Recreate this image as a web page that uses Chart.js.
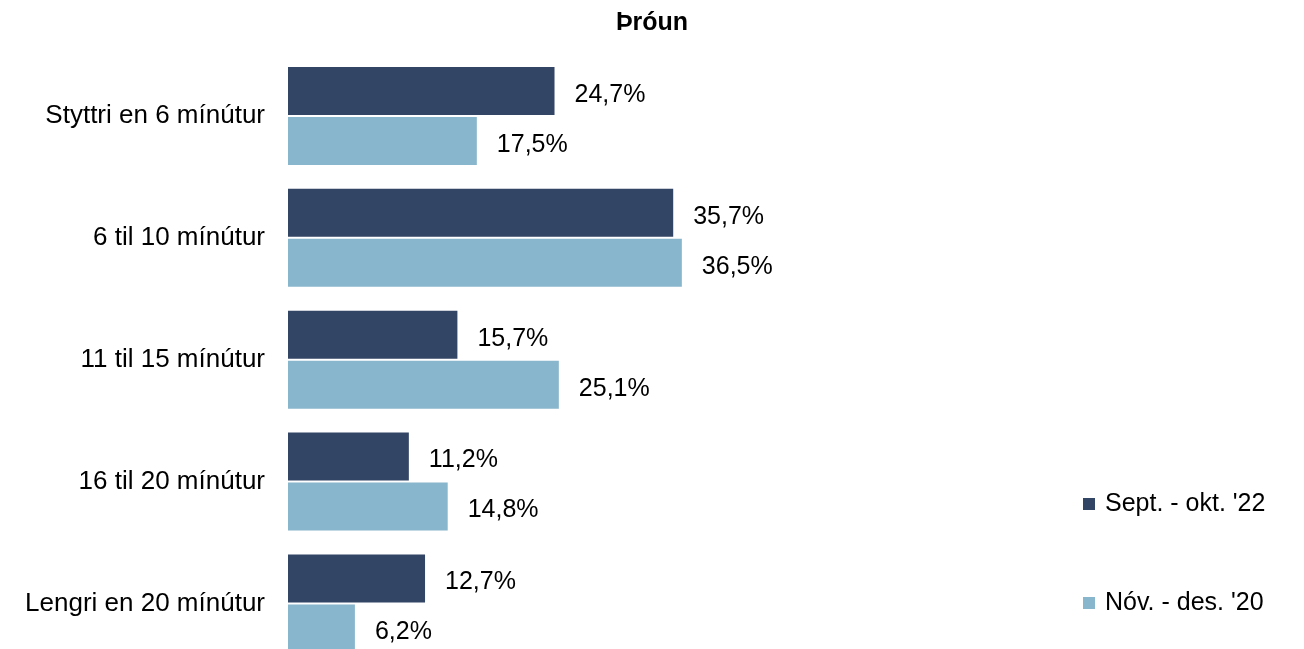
<!DOCTYPE html>
<html>
<head>
<meta charset="utf-8">
<style>
  html, body { margin: 0; padding: 0; background: #fff; overflow: hidden; }
</style>
</head>
<body>
<canvas id="chart-bars" width="1304" height="703"></canvas>
<script src="https://cdn.jsdelivr.net/npm/chart.js@4/dist/chart.umd.min.js"></script>
<script>
const categories = ["Styttri en 6 mínútur", "6 til 10 mínútur", "11 til 15 mínútur", "16 til 20 mínútur", "Lengri en 20 mínútur"];
const seriesNames = ["Sept. - okt. '22", "Nóv. - des. '20"];
const sept22 = [24.7, 35.7, 15.7, 11.2, 12.7];
const nov20 = [17.5, 36.5, 25.1, 14.8, 6.2];

const FONT = "'Liberation Sans', Arial, sans-serif";

// value labels to the right of each bar
const valueLabels = {
    id: 'valueLabels',
    afterDatasetsDraw(chart) {
        const c = chart.ctx;
        c.save();
        c.font = "25px " + FONT;
        c.fillStyle = "#000";
        c.textAlign = "left";
        c.textBaseline = "middle";
        chart.data.datasets.forEach((ds, i) => {
            chart.getDatasetMeta(i).data.forEach((bar, j) => {
                const txt = ds.data[j].toFixed(1).replace('.', ',') + '%';
                c.fillText(txt, bar.x + 20, bar.y + 4);
            });
        });
        c.restore();
    }
};

// title centred on the whole canvas + legend on the right
const extras = {
    id: 'extras',
    afterDraw(chart) {
        const c = chart.ctx;
        c.save();
        c.fillStyle = "#000";
        c.textAlign = "center";
        c.textBaseline = "middle";
        c.font = "bold 25px " + FONT;
        c.fillText('Þróun', chart.width / 2, 23);

        const ys = [504, 603];
        c.font = "25px " + FONT;
        c.textAlign = "left";
        chart.data.datasets.forEach((ds, i) => {
            c.fillStyle = ds.backgroundColor;
            c.fillRect(1083, ys[i] - 6, 12, 12);
            c.fillStyle = "#000";
            c.fillText(ds.label, 1105, ys[i]);
        });
        c.restore();
    }
};

const ctx = document.getElementById('chart-bars').getContext('2d');

new Chart(ctx, {
    type: 'bar',
    data: {
        labels: categories,
        datasets: [{
            label: seriesNames[0],
            data: sept22,
            backgroundColor: "#334565",
            barPercentage: 0.96,
            categoryPercentage: 0.82
        }, {
            label: seriesNames[1],
            data: nov20,
            backgroundColor: "#88B6CC",
            barPercentage: 0.96,
            categoryPercentage: 0.82
        }]
    },
    options: {
        indexAxis: 'y',
        responsive: false,
        animation: false,
        layout: {
            padding: { left: 0, right: 265, top: 55, bottom: 15 }
        },
        plugins: {
            legend: { display: false },
            tooltip: { enabled: false },
            title: { display: false }
        },
        scales: {
            x: {
                display: false,
                min: 0,
                max: 69.6
            },
            y: {
                grid: { display: false, drawTicks: false },
                border: { display: false },
                afterFit(scale) { scale.width = 288; },
                ticks: {
                    padding: 23,
                    color: '#000',
                    font: { size: 26, family: FONT }
                }
            }
        }
    },
    plugins: [valueLabels, extras]
});
</script>
</body>
</html>
